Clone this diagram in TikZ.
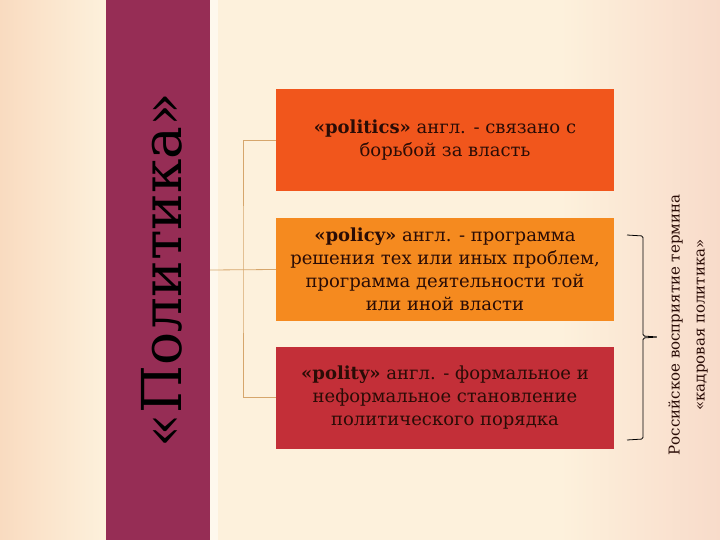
\documentclass[tikz,border=0pt]{standalone}
\usepackage{fontspec}
\setmainfont{DejaVu Serif}
\definecolor{cream}{HTML}{FDF1DC}
\definecolor{peachL}{HTML}{F9DBC0}
\definecolor{peachR}{HTML}{F8DBCA}
\definecolor{bandcol}{HTML}{962D55}
\definecolor{politicscol}{HTML}{F1561C}
\definecolor{policycol}{HTML}{F58A1F}
\definecolor{politycol}{HTML}{C32F38}
\definecolor{linkcol}{HTML}{D6A66C}
\definecolor{termtext}{HTML}{2A0C06}

\begin{document}
\begin{tikzpicture}[x=1pt,y=-1pt,
    term/.style={minimum width=338pt,minimum height=102pt,inner sep=0pt,align=center,text=termtext,font=\fontsize{18}{23}\selectfont},
    link/.style={draw=linkcol,line width=0.8pt}]
    \useasboundingbox (0,0) rectangle (720,540);
    \fill[cream] (0,0) rectangle (720,540);
    \shade[left color=peachL,right color=cream] (0,0) rectangle (106,540);
    \shade[left color=cream,right color=peachR] (560,0) rectangle (720,540);
    \fill[white,opacity=0.5] (210,0) rectangle (218,540);

    \node[fill=bandcol,minimum width=104pt,minimum height=540pt,inner sep=0pt] (band) at (158,270) {};
    \node[rotate=90,text=black,font=\fontsize{55}{55}\selectfont] (title) at (162,270) {«Политика»};

    \node[term,fill=politicscol] (politics) at (445,140.5) {\textbf{«politics»} англ. - связано с\\борьбой за власть};
    \node[term,fill=policycol] (policy) at (445,269.5) {\textbf{«policy»} англ. - программа\\решения тех или иных проблем,\\программа деятельности той\\или иной власти};
    \node[term,fill=politycol] (polity) at (445,397.5) {\textbf{«polity»} англ. - формальное и\\неформальное становление\\политического порядка};

    \coordinate (split) at (243,270);
    \draw[link] (band.east |- split) -- (policy.west);
    \draw[link] (politics.west) -| (split) |- (polity.west);

    \coordinate (braceTop) at (627,235);
    \coordinate (braceBot) at (627,440);
    \draw[line width=0.8pt,rounded corners=1.5pt] (braceTop) -- ++(16,1) -- (643,336) -- (658,337) -- (643,338) -- (643,439) -- (braceBot);

    \node[rotate=90,align=center,text=termtext,font=\fontsize{15}{25}\selectfont] (note) at (688,325) {Российское восприятие термина\\«кадровая политика»};
\end{tikzpicture}
\end{document}
